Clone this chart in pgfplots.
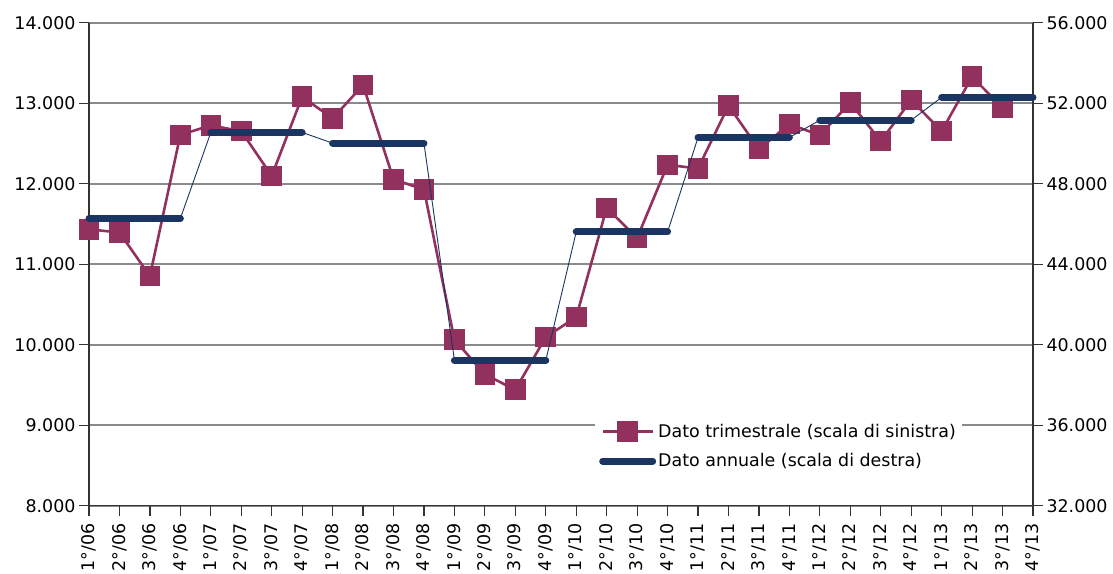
\documentclass[border=0pt]{standalone}
\usepackage{fontspec}
\setmainfont{DejaVu Sans}
\usepackage{pgfplots}
\pgfplotsset{compat=1.18}

\definecolor{trim}{HTML}{93315E}
\definecolor{annu}{HTML}{1B3562}
\definecolor{gridgray}{HTML}{8A8A8A}

\pgfplotsset{
  common/.style={
    scale only axis, width=944bp, height=483bp,
    xmin=0, xmax=31, clip=false,
    scaled y ticks=false,
    axis line style={-, line width=1.4bp, black!80},
    tick style={line width=1.2bp, black!80},
    major tick length=10bp, tick align=outside,
    tick label style={font=\fontsize{17.5}{20}\selectfont},
  },
}

\begin{document}
\begin{tikzpicture}
\begin{axis}[common, name=ax1,
    ymin=8000, ymax=14000,
    axis y line*=left, axis x line*=bottom,
    xtick={0,...,31},
    xticklabels={1°/06,2°/06,3°/06,4°/06,1°/07,2°/07,3°/07,4°/07,
                 1°/08,2°/08,3°/08,4°/08,1°/09,2°/09,3°/09,4°/09,
                 1°/10,2°/10,3°/10,4°/10,1°/11,2°/11,3°/11,4°/11,
                 1°/12,2°/12,3°/12,4°/12,1°/13,2°/13,3°/13,4°/13},
    xticklabel style={rotate=90, anchor=east},
    xticklabel shift=4bp,
    ytick={8000,9000,...,14000},
    yticklabels={8.000,9.000,10.000,11.000,12.000,13.000,14.000},
    ymajorgrids, grid style={gridgray, line width=1.8bp},
]
% quarterly values, left scale
\addplot[trim, line width=2.6bp, mark=square*, mark size=9bp,
         mark options={solid, fill=trim, draw=trim}] coordinates {
  (0,11434) (1,11393) (2,10853) (3,12607)
  (4,12724) (5,12653) (6,12097) (7,13080)
  (8,12811) (9,13225) (10,12055) (11,11928)
  (12,10062) (13,9631) (14,9440) (15,10095)
  (16,10343) (17,11699) (18,11326) (19,12234)
  (20,12189) (21,12970) (22,12429) (23,12740)
  (24,12603) (25,13005) (26,12529) (27,13039)
  (28,12653) (29,13328) (30,12943)
};
\end{axis}

\begin{axis}[common,
    ymin=32000, ymax=56000,
    axis y line*=right, axis x line=none,
    ytick={32000,36000,...,56000},
    yticklabels={32.000,36.000,40.000,44.000,48.000,52.000,56.000},
    legend style={at={(0.536,0.184)}, anchor=north west, draw=none, fill=white,
                  font=\fontsize{17.5}{20}\selectfont, cells={anchor=west},
                  row sep=11bp, inner xsep=4bp, inner ysep=5bp},
    legend image code/.code={\draw[mark repeat=2, mark phase=2, #1]
        plot coordinates {(0bp,0bp) (25bp,0bp) (50bp,0bp)};},
]
\addlegendimage{trim, line width=2.6bp, mark=square*, mark size=9bp,
                mark options={solid, fill=trim, draw=trim}}
\addlegendentry{Dato trimestrale (scala di sinistra)}
% annual values, right scale: thin link line
\addplot[annu, line width=0.9bp, forget plot] coordinates {
  (0,46270) (1,46270) (2,46270) (3,46270)
  (4,50547) (5,50547) (6,50547) (7,50547)
  (8,50015) (9,50015) (10,50015) (11,50015)
  (12,39219) (13,39219) (14,39219) (15,39219)
  (16,45602) (17,45602) (18,45602) (19,45602)
  (20,50299) (21,50299) (22,50299) (23,50299)
  (24,51159) (25,51159) (26,51159) (27,51159)
  (28,52289) (29,52289) (30,52289) (31,52289)
};
% thick yearly bars
\addplot[annu, line width=7bp, line cap=round, unbounded coords=jump] coordinates {
  (0,46270) (3,46270) (3.5,nan)
  (4,50547) (7,50547) (7.5,nan)
  (8,50015) (11,50015) (11.5,nan)
  (12,39219) (15,39219) (15.5,nan)
  (16,45602) (19,45602) (19.5,nan)
  (20,50299) (23,50299) (23.5,nan)
  (24,51159) (27,51159) (27.5,nan)
  (28,52289) (31,52289)
};
\addlegendentry{Dato annuale (scala di destra)}
\end{axis}

\pgfresetboundingbox
\path (ax1.south west) ++(-89bp,-68.3bp) coordinate (bl);
\path (ax1.north east) ++(80bp,22.7bp) coordinate (tr);
\useasboundingbox (bl) rectangle (tr);
\end{tikzpicture}
\end{document}
